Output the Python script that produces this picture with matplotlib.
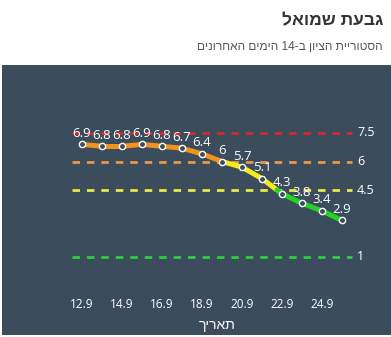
import re
import matplotlib
matplotlib.use("Agg")
import matplotlib.pyplot as plt
from matplotlib.patches import Rectangle
import numpy as np

plt.rcParams['font.family'] = ['Open Sans', 'DejaVu Sans']
HEB = ['Liberation Sans', 'DejaVu Sans']

# ---- data ----
dates = ["12.9", "13.9", "14.9", "15.9", "16.9", "17.9", "18.9", "19.9",
         "20.9", "21.9", "22.9", "23.9", "24.9", "25.9"]
values = [6.9, 6.8, 6.8, 6.9, 6.8, 6.7, 6.4, 6, 5.7, 5.1, 4.3, 3.8, 3.4, 2.9]
tick_labels = ["12.9", "14.9", "16.9", "18.9", "20.9", "22.9", "24.9"]
thresholds = [7.5, 6, 4.5, 1]
threshold_labels = ["7.5", "6", "4.5", "1"]
title = "גבעת שמואל"
subtitle = "הסטוריית הציון ב-14 הימים האחרונים"
xlabel = "תאריך"


def visual(s):
    """Logical RTL Hebrew string -> visual LTR order for matplotlib."""
    r = s[::-1]
    return re.sub(r"[0-9.]+", lambda m: m.group(0)[::-1], r)


W, H = 391, 337
BG = "#3b4d5c"
fig = plt.figure(figsize=(W / 100, H / 100), dpi=100)
fig.patch.set_facecolor("white")

# dark panel
fig.add_artist(Rectangle((2 / W, 2 / H), (W - 2) / W, (335 - 65) / H,
                         transform=fig.transFigure, facecolor=BG,
                         edgecolor="none", zorder=0))

fig.text(383 / W, 1 - 21 / H, visual(title), ha="right", va="center",
         fontsize=12.5, fontweight="bold", color="#333333", family=HEB)
fig.text(383 / W, 1 - 47 / H, visual(subtitle), ha="right", va="center",
         fontsize=8.6, color="#555555", family=HEB)

# axes: x pixel 62..372, y pixel 110..270
ax = fig.add_axes([62 / W, 1 - 270 / H, 310 / W, 160 / H])
ax.set_facecolor("none")
ax.set_xlim(-1, 14.5)
ax.set_ylim(7.5 - (270 - 133) / 19, 7.5 + (133 - 110) / 19)
for s in ax.spines.values():
    s.set_visible(False)

x = np.arange(len(values))
tick_pos = [dates.index(t) for t in tick_labels]
ax.set_xticks(tick_pos)
ax.set_xticklabels(tick_labels, color="white", fontsize=8.5)
ax.tick_params(axis="x", length=0, pad=20)
ax.set_yticks([])
ax.set_xlabel(visual(xlabel), color="white", fontsize=10, labelpad=5,
              family=HEB)

# threshold lines
th_colors = ["#d42a2a", "#e8964a", "#e8e84a", "#2ecc40"]
for t, lab, c in zip(thresholds, threshold_labels, th_colors):
    ax.plot([-0.5, 13.5], [t, t], color=c, lw=2,
            linestyle=(0, (2.7, 2.5)), zorder=1)
    ax.text(13.75, t, lab, color="white", fontsize=9, ha="left", va="center")


def seg_color(v):
    if v >= 6:
        return "#f0921e"
    if v >= 4.5:
        return "#f7ea1c"
    return "#22d422"


# coloured line split at thresholds
for i in range(len(values) - 1):
    x0, x1 = x[i], x[i + 1]
    y0, y1 = values[i], values[i + 1]
    cuts = [0.0, 1.0]
    for t in (6, 4.5):
        if (y0 - t) * (y1 - t) < 0:
            cuts.append((t - y0) / (y1 - y0))
    cuts.sort()
    for a, b in zip(cuts[:-1], cuts[1:]):
        xa, xb = x0 + a * (x1 - x0), x0 + b * (x1 - x0)
        ya, yb = y0 + a * (y1 - y0), y0 + b * (y1 - y0)
        ax.plot([xa, xb], [ya, yb], color=seg_color((ya + yb) / 2),
                lw=3.6, solid_capstyle="round", zorder=3)

ax.plot(x, values, linestyle="none", marker="o", ms=4.5, mfc=BG,
        mec="white", mew=1.0, zorder=4)

for xi, v in zip(x, values):
    ax.annotate(f"{v:g}", (xi, v), xytext=(0, 8), textcoords="offset points",
                ha="center", va="center", color="white", fontsize=9.5, zorder=5)

fig.savefig("out.png", dpi=100, facecolor=fig.get_facecolor())
